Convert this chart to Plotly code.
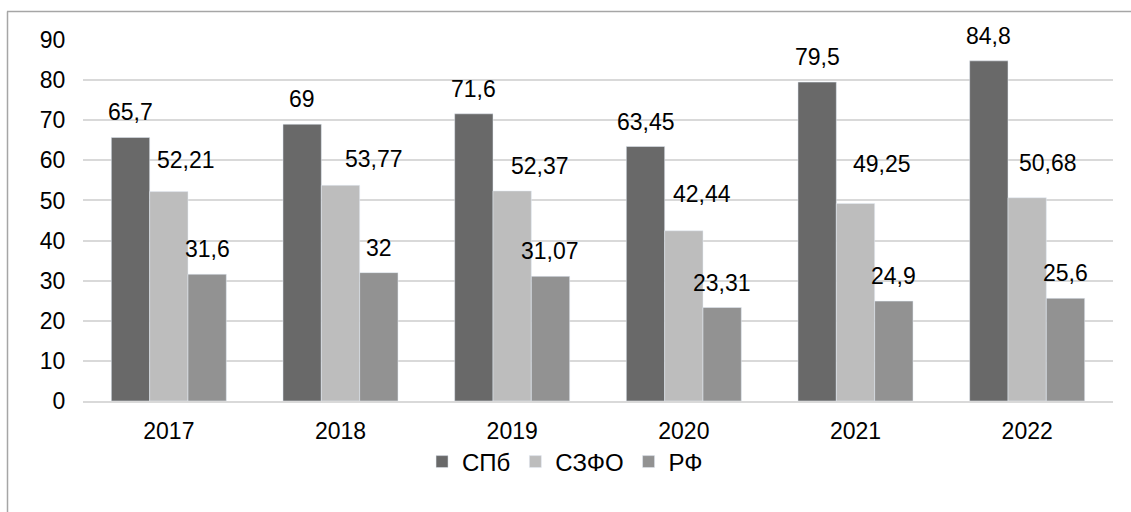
import plotly.graph_objects as go

# Data
years = ["2017", "2018", "2019", "2020", "2021", "2022"]
spb = [65.7, 69, 71.6, 63.45, 79.5, 84.8]
szfo = [52.21, 53.77, 52.37, 42.44, 49.25, 50.68]
rf = [31.6, 32, 31.07, 23.31, 24.9, 25.6]
series_names = ["СПб", "СЗФО", "РФ"]
colors = ["#696969", "#bdbdbd", "#929292"]

FONT = "Liberation Sans, Arial, sans-serif"

def fmt(v):
    return ("%g" % v).replace(".", ",")

fig = go.Figure()
for name, vals, col in zip(series_names, [spb, szfo, rf], colors):
    fig.add_trace(go.Bar(x=years, y=vals, name=name, marker_color=col))

# Value labels above each bar (label placement nudges for the middle series)
bar_offsets = [-1, 0, 1]          # bar index within group
mid_dx = [17, 33, 28, 18, 26, 21]  # horizontal nudge of СЗФО labels, px
mid_dy = [32, 26, 25, 37, 39, 35]  # vertical distance of СЗФО labels, px
bar_w_px = 38.3
annotations = []
for si, vals in enumerate([spb, szfo, rf]):
    for i, v in enumerate(vals):
        dx = bar_offsets[si] * bar_w_px
        dy = 25
        if si == 1:
            dx += mid_dx[i]
            dy = mid_dy[i]
        annotations.append(dict(
            x=i, y=v, xref="x", yref="y", text=fmt(v), showarrow=False,
            xshift=dx, yshift=dy, xanchor="center", yanchor="middle",
            font=dict(family=FONT, size=23, color="#000000"),
        ))

L, R, T, B = 83, 18, 40, 111
W, H = 1131, 512
pw, ph = W - L - R, H - T - B

def px_x(px):
    return (px - L) / pw

def px_y(py):
    return (H - B - py) / ph

fig.update_layout(
    width=W, height=H,
    margin=dict(l=L, r=R, t=T, b=B),
    paper_bgcolor="#ffffff", plot_bgcolor="#ffffff",
    barmode="group", bargap=0.33, bargroupgap=0,
    font=dict(family=FONT, size=23, color="#000000"),
    showlegend=True,
    legend=dict(
        orientation="h", x=0.468, xanchor="center", y=px_y(462), yanchor="middle",
        font=dict(family=FONT, size=24, color="#000000"),
    ),
    xaxis=dict(
        type="category",
        showgrid=False, showline=True, linecolor="#d9d9d9", linewidth=1.5,
        ticks="outside", ticklen=9, tickcolor="rgba(0,0,0,0)",
        tickfont=dict(family=FONT, size=23, color="#000000"),
    ),
    yaxis=dict(
        range=[0, 90], dtick=10, showgrid=True, gridcolor="#d9d9d9", gridwidth=1.5,
        zeroline=False, showline=False,
        ticks="outside", ticklen=12, tickcolor="rgba(0,0,0,0)",
        tickfont=dict(family=FONT, size=23, color="#000000"),
    ),
    annotations=annotations,
    shapes=[
        dict(type="line", xref="paper", yref="paper",
             x0=px_x(7), x1=px_x(1135), y0=px_y(11.5), y1=px_y(11.5),
             line=dict(color="#a6a6a6", width=1.5)),
        dict(type="line", xref="paper", yref="paper",
             x0=px_x(7.5), x1=px_x(7.5), y0=px_y(11.5), y1=px_y(520),
             line=dict(color="#a6a6a6", width=1.5)),
    ],
)

fig.write_html("out.html")
